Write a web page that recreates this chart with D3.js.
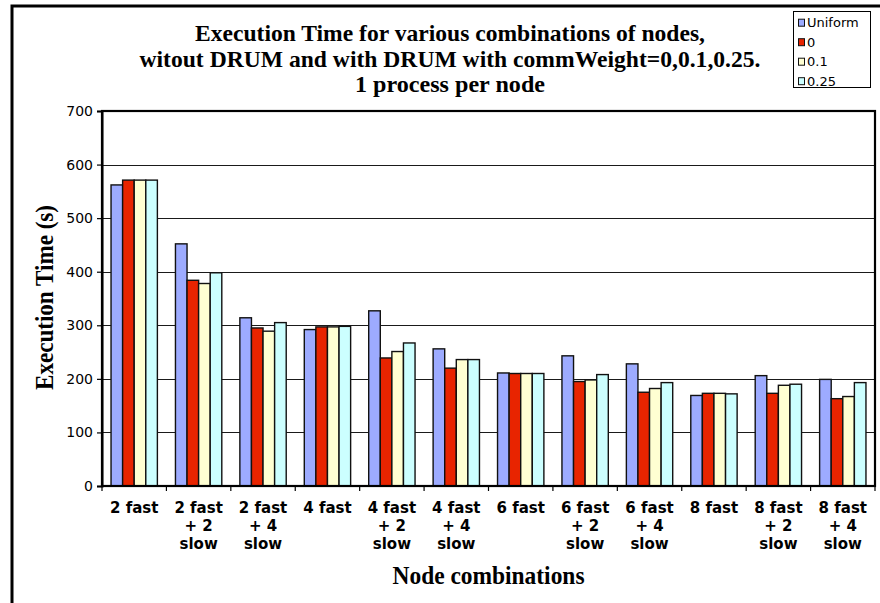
<!DOCTYPE html>
<html>
<head>
<meta charset="utf-8">
<script src="https://cdn.jsdelivr.net/npm/d3@7"></script>
<style>
  html, body { margin: 0; padding: 0; background: #fff; }
  svg { display: block; }
</style>
</head>
<body>
<svg id="chart" width="880" height="603"></svg>
<script>
// Node combinations on the x axis (each label is split over up to three lines)
const categories = [
  "2 fast", "2 fast + 2 slow", "2 fast + 4 slow",
  "4 fast", "4 fast + 2 slow", "4 fast + 4 slow",
  "6 fast", "6 fast + 2 slow", "6 fast + 4 slow",
  "8 fast", "8 fast + 2 slow", "8 fast + 4 slow"
];
const categoryLines = [
  ["2 fast"], ["2 fast", "+ 2", "slow"], ["2 fast", "+ 4", "slow"],
  ["4 fast"], ["4 fast", "+ 2", "slow"], ["4 fast", "+ 4", "slow"],
  ["6 fast"], ["6 fast", "+ 2", "slow"], ["6 fast", "+ 4", "slow"],
  ["8 fast"], ["8 fast", "+ 2", "slow"], ["8 fast", "+ 4", "slow"]
];

// Series: no DRUM (Uniform) and DRUM with commWeight 0, 0.1, 0.25
const seriesNames = ["Uniform", "0", "0.1", "0.25"];
const uniformTimes = [562, 452, 314, 292, 327, 256, 211, 243, 228, 169, 206, 199];
const cw0Times     = [571, 384, 295, 297, 239, 220, 210, 195, 175, 173, 173, 163];
const cw01Times    = [571, 378, 289, 297, 251, 236, 210, 198, 182, 173, 188, 167];
const cw025Times   = [571, 398, 305, 298, 267, 236, 210, 208, 193, 172, 190, 193];
const seriesColors = ["#9dabff", "#e82400", "#ffffd2", "#ccffff"];

const yTicks = [0, 100, 200, 300, 400, 500, 600, 700];

const titleLines = [
  "Execution Time for various combinations of nodes,",
  "witout DRUM and with DRUM with commWeight=0,0.1,0.25.",
  "1 process per node"
];

const seriesValues = [uniformTimes, cw0Times, cw01Times, cw025Times];
const rows = categories.map((c, i) => ({
  category: c,
  values: seriesNames.map((s, j) => ({ series: s, value: seriesValues[j][i], color: seriesColors[j] }))
}));

const svg = d3.select("#chart");
const plot = { left: 102, right: 875, top: 111, bottom: 486 };

// Outer chart frame
svg.append("rect")
  .attr("x", 12).attr("y", 6).attr("width", 900).attr("height", 700)
  .attr("fill", "#fff").attr("stroke", "#000").attr("stroke-width", 3);

const x0 = d3.scaleBand().domain(categories).range([plot.left, plot.right]).padding(0);
const x1 = d3.scaleBand().domain(seriesNames).range([0, x0.bandwidth()])
  .paddingInner(0).paddingOuter(0.78);
const y = d3.scaleLinear().domain([0, 700]).range([plot.bottom, plot.top]);

// Plot area background
svg.append("rect")
  .attr("x", plot.left).attr("y", plot.top)
  .attr("width", plot.right - plot.left).attr("height", plot.bottom - plot.top)
  .attr("fill", "#fff");

// Horizontal gridlines
svg.append("g").selectAll("line")
  .data(yTicks.filter(t => t > 0 && t < 700))
  .join("line")
  .attr("x1", plot.left).attr("x2", plot.right)
  .attr("y1", d => Math.round(y(d)) + 0.5).attr("y2", d => Math.round(y(d)) + 0.5)
  .attr("stroke", "#1a1a1a").attr("stroke-width", 1.2);

// Bars
const groups = svg.append("g").selectAll("g")
  .data(rows).join("g")
  .attr("transform", d => `translate(${x0(d.category)},0)`);

groups.selectAll("rect")
  .data(d => d.values).join("rect")
  .attr("x", d => x1(d.series))
  .attr("y", d => y(d.value))
  .attr("width", x1.bandwidth())
  .attr("height", d => y(0) - y(d.value))
  .attr("fill", d => d.color)
  .attr("stroke", "#111").attr("stroke-width", 1.4);

// Plot frame
svg.append("rect")
  .attr("x", plot.left).attr("y", plot.top)
  .attr("width", plot.right - plot.left).attr("height", plot.bottom - plot.top)
  .attr("fill", "none").attr("stroke", "#000").attr("stroke-width", 2.2);

// Y axis
const yAxis = d3.axisLeft(y).tickValues(yTicks).tickSize(5).tickPadding(4);
const gy = svg.append("g").attr("transform", `translate(${plot.left},0)`).call(yAxis);
gy.select(".domain").attr("stroke", "#000").attr("stroke-width", 2);
gy.selectAll(".tick line").attr("stroke", "#000").attr("stroke-width", 1.2);
gy.selectAll(".tick text")
  .attr("font-family", "Verdana, 'DejaVu Sans', sans-serif")
  .attr("font-size", 14).attr("fill", "#000");

// X axis: ticks at category boundaries
const boundaries = categories.map(c => x0(c)).concat([plot.right]);
svg.append("g").selectAll("line")
  .data(boundaries).join("line")
  .attr("x1", d => d).attr("x2", d => d)
  .attr("y1", plot.bottom).attr("y2", plot.bottom + 5)
  .attr("stroke", "#000").attr("stroke-width", 1.2);

// Category labels
const labels = svg.append("g")
  .attr("font-family", "Verdana, 'DejaVu Sans', sans-serif")
  .attr("font-weight", "bold").attr("font-size", 15)
  .attr("text-anchor", "middle").attr("fill", "#000");
categoryLines.forEach((lines, i) => {
  const cx = x0(categories[i]) + x0.bandwidth() / 2;
  lines.forEach((t, k) => {
    labels.append("text").attr("x", cx).attr("y", 512.5 + k * 18.3).text(t);
  });
});

// Title
const title = svg.append("g")
  .attr("font-family", "'Liberation Serif', 'Times New Roman', serif")
  .attr("font-weight", "bold").attr("font-size", 23)
  .attr("text-anchor", "middle").attr("fill", "#000");
const titleWidths = [510, 621, 190];
const titleBase = [41, 67, 92];
titleLines.forEach((t, i) => {
  title.append("text")
    .attr("x", 450).attr("y", titleBase[i])
    .attr("textLength", titleWidths[i]).attr("lengthAdjust", "spacingAndGlyphs")
    .text(t);
});

// Axis titles
svg.append("text")
  .attr("x", (plot.left + plot.right) / 2).attr("y", 584)
  .attr("text-anchor", "middle")
  .attr("font-family", "'Liberation Serif', 'Times New Roman', serif")
  .attr("font-weight", "bold").attr("font-size", 25)
  .attr("textLength", 192).attr("lengthAdjust", "spacingAndGlyphs")
  .text("Node combinations");

svg.append("text")
  .attr("transform", "translate(53,297.5) rotate(-90)")
  .attr("text-anchor", "middle")
  .attr("font-family", "'Liberation Serif', 'Times New Roman', serif")
  .attr("font-weight", "bold").attr("font-size", 25)
  .attr("textLength", 185).attr("lengthAdjust", "spacingAndGlyphs")
  .text("Execution Time (s)");

// Legend
const legend = svg.append("g");
legend.append("rect")
  .attr("x", 793.5).attr("y", 11.5).attr("width", 77).attr("height", 76)
  .attr("fill", "#fff").attr("stroke", "#000").attr("stroke-width", 1);
const items = legend.selectAll("g.item")
  .data(seriesNames.map((s, i) => ({ name: s, color: seriesColors[i] })))
  .join("g").attr("class", "item")
  .attr("transform", (d, i) => `translate(798, ${22.7 + i * 19.5})`);
items.append("rect")
  .attr("x", 0.5).attr("y", -3.5).attr("width", 6).attr("height", 7)
  .attr("fill", d => d.color).attr("stroke", "#111").attr("stroke-width", 1);
items.append("text")
  .attr("x", 9).attr("y", 0).attr("dy", "0.36em")
  .attr("font-family", "Verdana, 'DejaVu Sans', sans-serif")
  .attr("font-size", 13).attr("fill", "#000")
  .text(d => d.name);
</script>
</body>
</html>
